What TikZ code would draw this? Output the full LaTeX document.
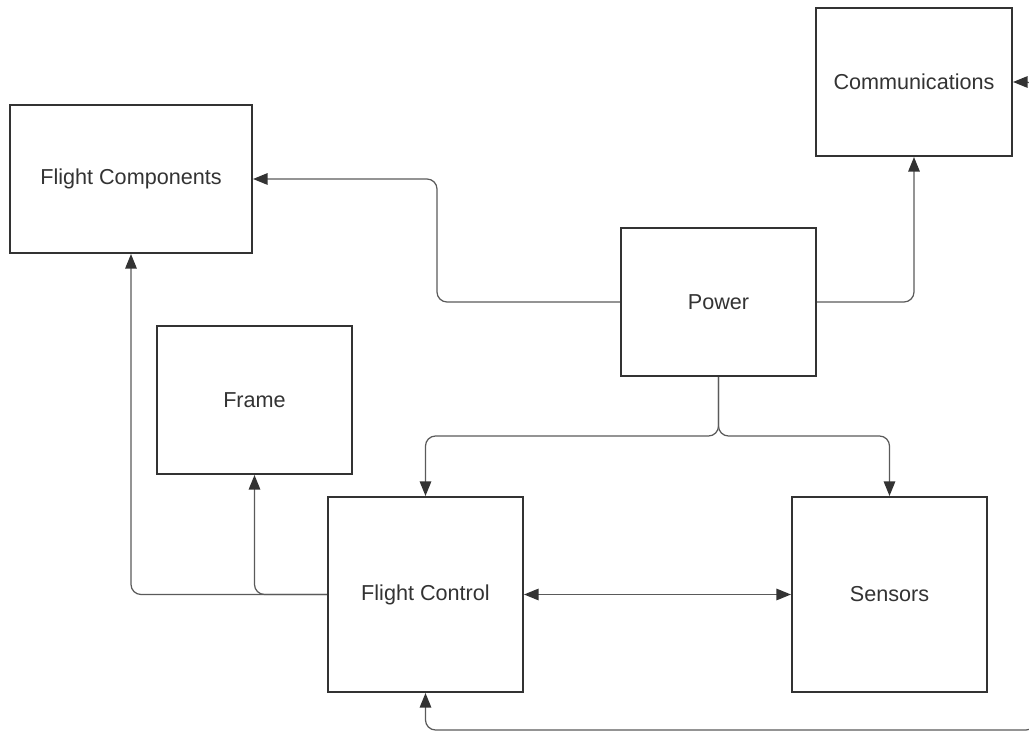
\documentclass[tikz,border=0pt]{standalone}
\usepackage{fontspec}
\setmainfont{Liberation Sans}
\usetikzlibrary{arrows.meta}
\definecolor{boxline}{HTML}{333333}
\definecolor{conline}{HTML}{5A5A5A}
\tikzset{
  blk/.style={draw=boxline, line width=1.2pt, fill=white, inner sep=0pt,
    font=\fontsize{12.3}{15}\selectfont, text=boxline},
  conn/.style={draw=conline, line width=0.7pt, rounded corners=0.2cm,
    arrows={-Triangle[length=2.9mm, width=2.3mm, fill=boxline, color=boxline]}},
  dconn/.style={conn, arrows={Triangle[length=2.9mm, width=2.3mm, fill=boxline, color=boxline]-Triangle[length=2.9mm, width=2.3mm, fill=boxline, color=boxline]}}
}
\begin{document}
\begin{tikzpicture}[x=0.02cm,y=-0.02cm]
\useasboundingbox (0,0) rectangle (1029,732);
\clip (0,0) rectangle (1029,732);
\node[blk, minimum width=3.92cm, minimum height=2.96cm] (comm) at (914,82) {Communications};
\node[blk, minimum width=4.84cm, minimum height=2.96cm] (fcomp) at (131,179) {Flight Components};
\node[blk, minimum width=3.9cm, minimum height=2.96cm] (power) at (718.5,302) {Power};
\node[blk, minimum width=3.9cm, minimum height=2.96cm] (frame) at (254.5,400) {Frame};
\node[blk, minimum width=3.9cm, minimum height=3.9cm] (fctl) at (425.5,594.5) {Flight Control};
\node[blk, minimum width=3.9cm, minimum height=3.9cm] (sens) at (889.5,594.5) {Sensors};
\coordinate (j1) at (437,240);
\coordinate (bus) at (718,436);
\coordinate (r1) at (1036,730);
\draw[conn] (power.west) -| (j1) |- (fcomp.east);
\draw[conn] (power.east) -| (comm.south);
\draw[conn] (power.south) |- (fctl.north |- bus) -- (fctl.north);
\draw[conn] (power.south) |- (sens.north |- bus) -- (sens.north);
\draw[conn] (fctl.west) -| (fcomp.south);
\draw[conn] (fctl.west) -| (frame.south);
\draw[dconn] (fctl.east) -- (sens.west);
\draw[dconn] (comm.east) -| (r1) -| (fctl.south);
\end{tikzpicture}
\end{document}
